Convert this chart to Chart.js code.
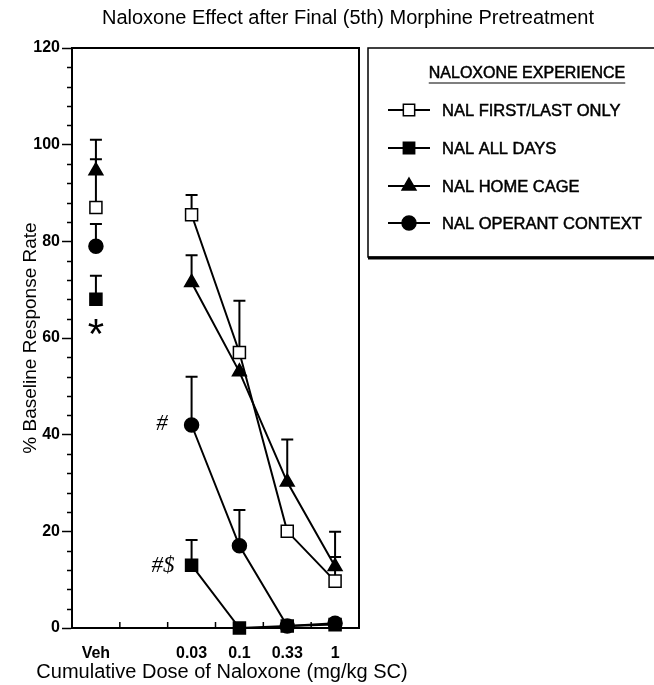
<!DOCTYPE html>
<html>
<head>
<meta charset="utf-8">
<script src="https://cdn.jsdelivr.net/npm/chart.js@4.4.0/dist/chart.umd.min.js"></script>
<style>
  html, body { margin: 0; padding: 0; background: #fff; }
  #wrap { width: 654px; height: 685px; }
</style>
</head>
<body>
<div id="wrap"><canvas id="c"></canvas></div>
<script>
// dose categories and where they sit on the 0..6 axis
const doseLabels = ['Veh', '0.03', '0.1', '0.33', '1'];
const dosePos = [0.5, 2.5, 3.5, 4.5, 5.5];
const gapPos = 1.5; // break between Veh and the dose-effect curve

// group means and top of error bar (mean + SEM), null = no visible bar
const firstLast    = [87, 85.5, 57, 20, 9.7];
const firstLastErr = [97, 89.6, 67.7, null, 14.7];
const allDays      = [68, 13, 0, 0.4, 0.7];
const allDaysErr   = [72.9, 18.2, null, null, null];
const homeCage     = [94.6, 71.5, 53, 30.2, 12.7];
const homeCageErr  = [101, 77.1, null, 39, 19.9];
const operant      = [79, 42, 17, 0.4, 1];
const operantErr   = [83.6, 52, 24.4, null, null];

const seriesNames = ['NAL FIRST/LAST ONLY', 'NAL ALL DAYS', 'NAL HOME CAGE', 'NAL OPERANT CONTEXT'];
const yTicks = [0, 20, 40, 60, 80, 100, 120];

// significance marks, in data coordinates
const marks = [
  { text: '*',  x: 0.5,  y: 60.3, font: '42px "Liberation Sans"' },
  { text: '#',  x: 1.88, y: 42.3, font: 'italic 23px "Liberation Serif"' },
  { text: '#$', x: 1.90, y: 12.8, font: 'italic 23px "Liberation Serif"' }
];

function points(vals){
  const out = [{ x: dosePos[0], y: vals[0] }, { x: gapPos, y: null }];
  for (let i = 1; i < vals.length; i++) out.push({ x: dosePos[i], y: vals[i] });
  return out;
}
function errs(vals){ return [vals[0], null].concat(vals.slice(1)); }

const styles = [
  { pointStyle: 'rect', pointRadius: 8.5, pointBackgroundColor: '#fff' },
  { pointStyle: 'rect', pointRadius: 8.5, pointBackgroundColor: '#000' },
  { pointStyle: 'triangle', pointRadius: 8, pointBackgroundColor: '#000' },
  { pointStyle: 'circle', pointRadius: 7, pointBackgroundColor: '#000' }
];
const means = [firstLast, allDays, homeCage, operant];
const tops = [firstLastErr, allDaysErr, homeCageErr, operantErr];

const datasets = means.map((m, i) => Object.assign({
  label: seriesNames[i],
  data: points(m),
  errTop: errs(tops[i]),
  borderColor: '#000',
  borderWidth: 2,
  pointBorderColor: '#000',
  pointBorderWidth: 1.5,
  spanGaps: false,
  clip: false
}, styles[i]));

// heavier text, like the scanned original
function heavyText(ctx, s, x, y){
  ctx.fillText(s, x, y);
  ctx.lineWidth = 0.5;
  ctx.strokeText(s, x, y);
}

const errorBars = {
  id: 'errorBars',
  beforeDatasetsDraw(chart){
    const ctx = chart.ctx, y = chart.scales.y;
    ctx.save();
    ctx.strokeStyle = '#000';
    ctx.lineWidth = 2;
    chart.data.datasets.forEach((ds, di) => {
      const meta = chart.getDatasetMeta(di);
      ds.errTop.forEach((t, i) => {
        if (t == null) return;
        const p = meta.data[i];
        const yt = y.getPixelForValue(t);
        ctx.beginPath();
        ctx.moveTo(p.x, p.y); ctx.lineTo(p.x, yt);
        ctx.moveTo(p.x - 6, yt); ctx.lineTo(p.x + 6, yt);
        ctx.stroke();
      });
    });
    ctx.restore();
  }
};

const frame = {
  id: 'frame',
  afterDraw(chart){
    const ctx = chart.ctx, a = chart.chartArea, x = chart.scales.x, y = chart.scales.y;
    ctx.save();
    ctx.strokeStyle = '#000';
    ctx.lineWidth = 2;
    ctx.beginPath();
    ctx.moveTo(a.left, a.top); ctx.lineTo(a.right, a.top); ctx.lineTo(a.right, a.bottom);
    ctx.stroke();
    // x tick marks pointing into the plot
    ctx.lineWidth = 1.5;
    ctx.beginPath();
    for (let v = 1; v <= 6; v++) {
      const px = x.getPixelForValue(v);
      ctx.moveTo(px, a.bottom); ctx.lineTo(px, a.bottom - 6);
    }
    // minor y ticks
    for (let v = 4; v < 120; v += 4) {
      if (v % 20 === 0) continue;
      const py = Math.round(y.getPixelForValue(v)) + 0.5;
      ctx.moveTo(a.left - 5, py); ctx.lineTo(a.left, py);
    }
    ctx.stroke();

    // significance marks
    ctx.fillStyle = '#000';
    ctx.textAlign = 'center';
    ctx.textBaseline = 'middle';
    marks.forEach(m => {
      ctx.font = m.font;
      ctx.fillText(m.text, x.getPixelForValue(m.x), y.getPixelForValue(m.y));
    });

    // titles
    ctx.font = '20px "Liberation Sans"';
    ctx.fillText('Naloxone Effect after Final (5th) Morphine Pretreatment', 348, 18);
    ctx.fillText('Cumulative Dose of Naloxone (mg/kg SC)', 222, 672);

    // legend box
    const lx = 368, ly = 48, lw = 300, lh = 209;
    ctx.lineWidth = 1.5;
    ctx.strokeRect(lx, ly, lw, lh);
    ctx.lineWidth = 3;
    ctx.beginPath(); ctx.moveTo(lx, ly + lh + 1); ctx.lineTo(lx + lw, ly + lh + 1); ctx.stroke();

    ctx.font = '16px "Liberation Sans"';
    ctx.textAlign = 'center';
    const head = 'NALOXONE EXPERIENCE';
    heavyText(ctx, head, 527, 74);
    const hw = ctx.measureText(head).width;
    ctx.lineWidth = 1.2;
    ctx.beginPath(); ctx.moveTo(527 - hw / 2, 83); ctx.lineTo(527 + hw / 2, 83); ctx.stroke();

    ctx.font = '16.5px "Liberation Sans"';
    ctx.textAlign = 'left';
    const rowY = [110, 148, 186, 223];
    chart.data.datasets.forEach((ds, i) => {
      const yy = rowY[i];
      ctx.lineWidth = 2;
      ctx.strokeStyle = '#000';
      ctx.beginPath(); ctx.moveTo(388, yy); ctx.lineTo(430, yy); ctx.stroke();
      ctx.fillStyle = ds.pointBackgroundColor;
      ctx.lineWidth = 1.5;
      Chart.helpers.drawPoint(ctx, {
        pointStyle: ds.pointStyle, radius: ds.pointStyle === 'rect' ? 8 : ds.pointRadius,
        borderWidth: 1.5, rotation: 0
      }, 409, yy);
      ctx.fillStyle = '#000';
      heavyText(ctx, ds.label, 442, yy + 1);
    });
    ctx.restore();
  }
};

new Chart(document.getElementById('c'), {
  type: 'line',
  data: { datasets },
  options: {
    responsive: true,
    maintainAspectRatio: false,
    animation: false,
    layout: { padding: { top: 48, right: 295, left: 0, bottom: 0 } },
    plugins: { legend: { display: false }, tooltip: { enabled: false }, title: { display: false } },
    scales: {
      x: {
        type: 'linear', min: 0, max: 6,
        afterBuildTicks: s => { s.ticks = dosePos.map(v => ({ value: v })); },
        afterFit: s => { s.height = 57; },
        grid: { display: true, drawOnChartArea: false, drawTicks: false, color: 'rgba(0,0,0,0)' },
        border: { display: true, color: '#000', width: 2 },
        ticks: {
          autoSkip: false, maxRotation: 0, padding: 16, color: '#000',
          font: { family: 'Liberation Sans', size: 16, weight: 'bold' },
          callback: v => doseLabels[dosePos.indexOf(v)]
        },
        title: { display: false }
      },
      y: {
        min: 0, max: 120,
        afterBuildTicks: s => { s.ticks = yTicks.map(v => ({ value: v })); },
        afterFit: s => { s.width = 72; },
        grid: { display: true, drawOnChartArea: false, drawTicks: true, tickLength: 10, tickWidth: 1.5, tickColor: '#000' },
        border: { display: true, color: '#000', width: 2 },
        ticks: { padding: 2, color: '#000', font: { family: 'Liberation Sans', size: 16, weight: 'bold' } },
        title: {
          display: true, text: '% Baseline Response Rate', color: '#000',
          font: { family: 'Liberation Sans', size: 19 }, padding: { top: 19, bottom: 0 }
        }
      }
    }
  },
  plugins: [errorBars, frame]
});
</script>
</body>
</html>
